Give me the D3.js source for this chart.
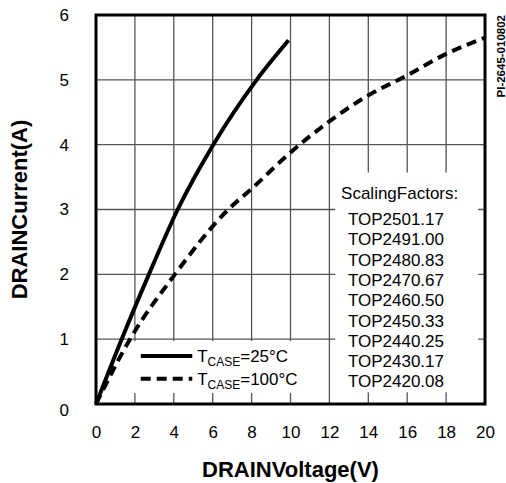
<!DOCTYPE html>
<html>
<head>
<meta charset="utf-8">
<script src="https://cdn.jsdelivr.net/npm/d3@7"></script>
<style>
  body { margin: 0; background: #fff; }
  text { font-family: "Liberation Sans", Arial, sans-serif; fill: #000; }
</style>
</head>
<body>
<svg id="chart" width="506" height="483"></svg>
<script>
// readings
const xTicks = [0, 2, 4, 6, 8, 10, 12, 14, 16, 18, 20]
const yTicks = [0, 1, 2, 3, 4, 5, 6]

// T_CASE = 25C (solid)
const v25 = [0, 1.32, 2.72, 4.2, 6.03, 8.26, 9.9]
const i25 = [0, 1, 2, 3, 4, 5, 5.61]

// T_CASE = 100C (dashed)
const v100 = [0, 1.75, 4.06, 6.8, 8, 10, 12, 14, 16, 18, 20]
const i100 = [0, 1, 2, 3, 3.32, 3.88, 4.36, 4.76, 5.07, 5.4, 5.65]

const scaleTitle = "ScalingFactors:"
const scaleRows = ["TOP2501.17", "TOP2491.00", "TOP2480.83", "TOP2470.67", "TOP2460.50",
                   "TOP2450.33", "TOP2440.25", "TOP2430.17", "TOP2420.08"]

const svg = d3.select("#chart")
const margin = { top: 15, right: 21, bottom: 79, left: 96 }
const w = 506 - margin.left - margin.right
const h = 483 - margin.top - margin.bottom

const x = d3.scaleLinear().domain([0, 20]).range([0, w])
const y = d3.scaleLinear().domain([0, 6]).range([h, 0])

const g = svg.append("g").attr("transform", `translate(${margin.left},${margin.top})`)

// grid
g.append("g").attr("class", "grid")
  .selectAll("line").data(xTicks.slice(1, -1)).join("line")
  .attr("x1", d => x(d)).attr("x2", d => x(d))
  .attr("y1", 0).attr("y2", h)
g.append("g").attr("class", "grid")
  .selectAll("line").data(yTicks.slice(1, -1)).join("line")
  .attr("x1", 0).attr("x2", w)
  .attr("y1", d => y(d)).attr("y2", d => y(d))
g.selectAll(".grid line").attr("stroke", "#555").attr("stroke-width", 1.3)

// white boxes behind the legend and the scaling table
g.append("rect")
  .attr("x", x(1.75)).attr("y", y(0.97))
  .attr("width", x(10.7) - x(1.75)).attr("height", y(0.17) - y(0.97))
  .attr("fill", "#fff")
g.append("rect")
  .attr("x", x(12.3)).attr("y", y(3.57))
  .attr("width", x(19.65) - x(12.3)).attr("height", y(0.18) - y(3.57))
  .attr("fill", "#fff")

// curves
const line = d3.line().x(d => x(d[0])).y(d => y(d[1])).curve(d3.curveMonotoneX)
g.append("path")
  .datum(d3.zip(v25, i25))
  .attr("d", line)
  .attr("fill", "none").attr("stroke", "#000").attr("stroke-width", 4)
g.append("path")
  .datum(d3.zip(v100, i100))
  .attr("d", line)
  .attr("fill", "none").attr("stroke", "#000").attr("stroke-width", 4)
  .attr("stroke-dasharray", "10,6")

// frame
g.append("rect")
  .attr("width", w).attr("height", h)
  .attr("fill", "none").attr("stroke", "#000").attr("stroke-width", 3)

// axes labels
const xAxis = g.append("g")
  .attr("transform", `translate(0,${h})`)
  .call(d3.axisBottom(x).tickValues(xTicks).tickFormat(d3.format("d")).tickSize(0).tickPadding(22))
const yAxis = g.append("g")
  .call(d3.axisLeft(y).tickValues(yTicks).tickFormat(d3.format("d")).tickSize(0).tickPadding(27))
xAxis.select(".domain").remove()
yAxis.select(".domain").remove()
g.selectAll(".tick text")
  .attr("font-family", "Liberation Sans, Arial, sans-serif")
  .attr("font-size", 17).attr("fill", "#000")
yAxis.selectAll(".tick").filter(d => d === 0).select("text").attr("dy", "0.65em")

// axis titles
svg.append("text")
  .attr("x", margin.left + w / 2).attr("y", 477)
  .attr("text-anchor", "middle")
  .attr("font-size", 22).attr("font-weight", "bold")
  .text("DRAINVoltage(V)")
svg.append("text")
  .attr("transform", `translate(27,${margin.top + h / 2}) rotate(-90)`)
  .attr("text-anchor", "middle")
  .attr("font-size", 22).attr("font-weight", "bold")
  .text("DRAINCurrent(A)")

// figure id
svg.append("text")
  .attr("transform", "translate(505,15) rotate(-90)")
  .attr("text-anchor", "end")
  .attr("font-size", 11.5).attr("font-weight", "bold")
  .text("PI-2645-010802")

// legend
const legend = [
  { label: "25°C", dash: null, yv: 0.74 },
  { label: "100°C", dash: "10,6", yv: 0.39 }
]
legend.forEach(d => {
  const ly = y(d.yv)
  g.append("line")
    .attr("x1", x(2.3)).attr("x2", x(4.95))
    .attr("y1", ly).attr("y2", ly)
    .attr("stroke", "#000").attr("stroke-width", 4)
    .attr("stroke-dasharray", d.dash)
  const t = g.append("text")
    .attr("x", x(5.2)).attr("y", ly + 6)
    .attr("font-size", 17)
  t.append("tspan").text("T")
  t.append("tspan").attr("font-size", 12).attr("dy", 4).text("CASE")
  t.append("tspan").attr("dy", -4).text("=" + d.label)
})

// scaling factors table
g.append("text")
  .attr("x", x(12.6)).attr("y", 199 - margin.top)
  .attr("font-size", 17)
  .text(scaleTitle)
g.selectAll("text.row").data(scaleRows).join("text")
  .attr("class", "row")
  .attr("x", x(12.95))
  .attr("y", (d, i) => 225 - margin.top + i * 20.3)
  .attr("font-size", 17)
  .text(d => d)
</script>
</body>
</html>
